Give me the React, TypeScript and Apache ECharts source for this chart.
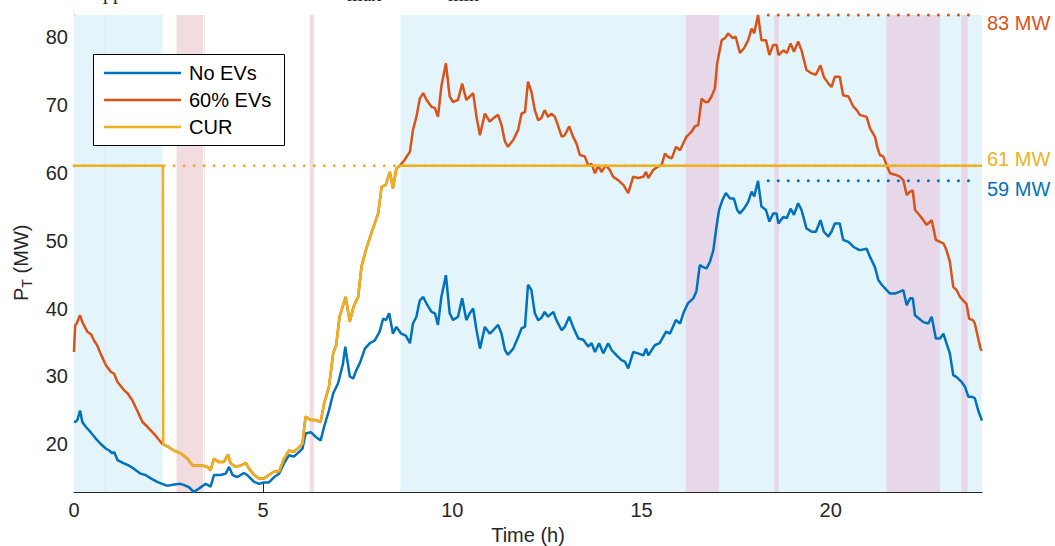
import React, { useEffect, useRef } from "react";
import * as echarts from "echarts";

// ---- data (time in h, power in MW) ----
const noEVs: [number, number][] = [
  [0, 23.4],[0.04, 23.3],[0.09, 23.6],[0.16, 25.0],[0.22, 23.3],[0.31, 22.6],[0.44, 21.8],[0.57, 20.9],[0.70, 20.1],[0.84, 19.4],[0.93, 19.1],[1.01, 18.7],[1.06, 18.9],[1.15, 17.7],[1.32, 17.2],[1.45, 16.9],[1.59, 16.4],[1.76, 15.7],[1.89, 15.5],[2.03, 15.0],[2.20, 14.5],[2.33, 14.2],[2.47, 13.9],[2.64, 14.1],[2.82, 14.2],[2.91, 14.0],[3.04, 13.7],[3.17, 13.0],[3.30, 13.5],[3.48, 14.2],[3.61, 13.8],[3.70, 15.5],[3.88, 15.5],[4.01, 15.7],[4.10, 16.7],[4.19, 15.5],[4.32, 15.2],[4.49, 15.8],[4.58, 15.5],[4.76, 14.5],[4.89, 14.2],[5.02, 14.4],[5.15, 14.4],[5.29, 15.2],[5.42, 15.7],[5.55, 17.2],[5.68, 18.4],[5.81, 18.2],[5.95, 18.9],[6.04, 19.4],[6.12, 21.6],[6.26, 21.8],[6.39, 21.1],[6.52, 20.6],[6.61, 22.6],[6.74, 25.0],[6.85, 27.5],[6.98, 29.0],[7.11, 31.9],[7.17, 34.4],[7.29, 30.0],[7.38, 29.7],[7.46, 30.9],[7.55, 31.9],[7.69, 34.1],[7.82, 34.9],[7.95, 35.3],[8.08, 36.6],[8.17, 38.5],[8.25, 38.3],[8.33, 39.3],[8.43, 36.3],[8.52, 37.3],[8.65, 36.3],[8.77, 36.0],[8.88, 34.9],[8.96, 37.8],[9.05, 38.8],[9.14, 41.2],[9.23, 41.7],[9.32, 40.7],[9.45, 39.5],[9.54, 39.3],[9.62, 37.6],[9.71, 41.7],[9.83, 44.9],[9.93, 39.3],[10.02, 38.3],[10.15, 38.8],[10.26, 41.5],[10.37, 38.3],[10.46, 39.3],[10.55, 40.0],[10.64, 36.8],[10.73, 34.1],[10.86, 37.3],[10.99, 36.3],[11.08, 36.8],[11.21, 37.6],[11.30, 36.3],[11.39, 33.9],[11.47, 33.2],[11.61, 34.1],[11.74, 35.8],[11.83, 37.1],[11.92, 37.3],[12.00, 43.5],[12.09, 42.7],[12.18, 39.3],[12.27, 38.3],[12.35, 38.6],[12.44, 39.5],[12.53, 38.8],[12.67, 39.5],[12.75, 38.3],[12.89, 36.8],[12.97, 37.3],[13.09, 38.8],[13.19, 37.3],[13.33, 35.6],[13.46, 35.4],[13.59, 34.4],[13.68, 34.9],[13.77, 33.6],[13.88, 34.9],[13.99, 33.4],[14.12, 34.9],[14.21, 33.9],[14.34, 33.1],[14.47, 32.4],[14.56, 32.2],[14.65, 31.2],[14.78, 33.6],[14.91, 33.4],[15.05, 33.1],[15.12, 34.1],[15.18, 33.1],[15.35, 34.6],[15.48, 34.9],[15.65, 36.6],[15.75, 36.3],[15.91, 38.3],[16.02, 37.8],[16.12, 39.5],[16.23, 40.8],[16.37, 41.5],[16.45, 42.5],[16.54, 46.4],[16.63, 46.1],[16.72, 45.9],[16.81, 46.9],[16.90, 48.6],[16.98, 52.0],[17.05, 54.5],[17.14, 56.0],[17.23, 57.0],[17.34, 56.2],[17.44, 56.2],[17.53, 54.5],[17.60, 54.0],[17.71, 54.7],[17.82, 55.7],[17.91, 57.2],[17.98, 56.5],[18.08, 58.8],[18.17, 55.0],[18.29, 54.5],[18.38, 52.8],[18.48, 54.0],[18.57, 54.0],[18.62, 52.5],[18.75, 53.5],[18.84, 53.3],[18.94, 54.7],[19.03, 53.8],[19.14, 55.5],[19.23, 54.5],[19.36, 51.8],[19.50, 51.3],[19.61, 51.3],[19.73, 53.0],[19.82, 51.3],[19.94, 50.6],[20.02, 51.3],[20.11, 52.5],[20.24, 52.5],[20.33, 50.1],[20.47, 49.8],[20.60, 49.1],[20.69, 48.8],[20.77, 48.6],[20.95, 48.8],[21.04, 47.6],[21.17, 46.1],[21.26, 44.2],[21.35, 43.5],[21.48, 42.7],[21.57, 42.2],[21.70, 42.2],[21.83, 42.5],[21.92, 42.7],[22.01, 40.5],[22.10, 41.5],[22.17, 41.5],[22.23, 39.0],[22.34, 38.5],[22.45, 38.0],[22.58, 37.8],[22.67, 38.8],[22.78, 35.6],[22.89, 35.6],[22.98, 36.3],[23.06, 34.9],[23.15, 33.4],[23.24, 30.2],[23.33, 29.9],[23.46, 29.2],[23.55, 28.5],[23.64, 27.0],[23.73, 27.0],[23.81, 26.8],[23.90, 25.0],[24.00, 23.5],
];

const evStart: [number, number][] = [
  [0, 33.6],[0.03, 37.5],[0.07, 37.8],[0.16, 39.0],[0.22, 38.0],[0.35, 36.6],[0.45, 36.2],[0.53, 35.3],[0.62, 34.5],[0.70, 33.4],[0.84, 31.7],[0.97, 30.7],[1.06, 30.4],[1.15, 29.2],[1.32, 28.0],[1.42, 27.5],[1.54, 26.5],[1.67, 25.0],[1.81, 23.3],[1.94, 22.6],[2.11, 21.6],[2.33, 20.1],
];

// segment where CUR and 60% EVs coincide
const sharedLow: [number, number][] = [
  [2.36, 20.0],[2.51, 19.6],[2.64, 19.1],[2.82, 18.7],[3.00, 17.9],[3.13, 16.9],[3.26, 16.9],[3.39, 16.9],[3.52, 16.7],[3.61, 16.2],[3.70, 17.9],[3.83, 17.4],[3.96, 17.4],[4.07, 18.5],[4.14, 17.2],[4.27, 16.7],[4.41, 16.9],[4.54, 17.3],[4.63, 16.4],[4.76, 15.5],[4.89, 15.0],[5.02, 15.0],[5.15, 15.5],[5.29, 16.0],[5.42, 16.0],[5.55, 17.9],[5.68, 19.1],[5.81, 18.9],[5.95, 19.6],[6.04, 20.1],[6.12, 24.1],[6.26, 23.6],[6.39, 23.6],[6.52, 23.3],[6.61, 26.0],[6.74, 28.5],[6.85, 33.4],[6.93, 34.6],[7.02, 38.8],[7.18, 41.7],[7.29, 38.1],[7.39, 40.3],[7.51, 41.7],[7.60, 46.2],[7.73, 48.9],[7.86, 51.1],[8.04, 54.0],[8.13, 57.9],[8.24, 58.2],[8.35, 60.1],[8.43, 57.7],[8.52, 60.6],[8.61, 61.0],
];

const evEnd: [number, number][] = [
  [8.74, 61.9],[8.88, 63.1],[8.96, 66.3],[9.05, 68.2],[9.14, 70.9],[9.23, 71.7],[9.32, 70.7],[9.45, 69.7],[9.54, 69.5],[9.62, 68.2],[9.71, 72.7],[9.83, 76.1],[9.93, 71.2],[10.02, 70.4],[10.15, 70.7],[10.26, 73.1],[10.37, 70.7],[10.46, 71.2],[10.55, 71.7],[10.64, 68.2],[10.73, 65.5],[10.86, 68.7],[10.99, 67.5],[11.08, 68.0],[11.21, 68.5],[11.30, 67.0],[11.39, 64.6],[11.47, 63.8],[11.61, 64.8],[11.74, 66.3],[11.83, 68.7],[11.92, 68.9],[12.00, 73.4],[12.09, 71.9],[12.18, 69.2],[12.27, 67.7],[12.35, 68.0],[12.44, 69.2],[12.53, 68.2],[12.62, 68.7],[12.71, 68.2],[12.80, 66.8],[12.89, 65.3],[12.97, 65.5],[13.09, 66.8],[13.19, 65.3],[13.28, 64.3],[13.37, 62.6],[13.50, 62.4],[13.59, 61.1],[13.68, 61.3],[13.77, 59.9],[13.86, 61.1],[13.94, 60.1],[14.06, 61.1],[14.16, 60.4],[14.25, 59.4],[14.38, 58.9],[14.52, 58.2],[14.65, 57.0],[14.78, 59.4],[14.91, 59.2],[15.05, 59.4],[15.12, 60.1],[15.18, 59.2],[15.31, 60.4],[15.44, 60.9],[15.53, 61.1],[15.62, 62.8],[15.71, 62.3],[15.80, 62.1],[15.91, 63.8],[16.02, 63.3],[16.12, 64.5],[16.19, 65.3],[16.32, 66.0],[16.41, 66.8],[16.50, 67.0],[16.59, 70.9],[16.68, 70.4],[16.76, 70.4],[16.85, 71.2],[16.94, 72.4],[17.00, 76.1],[17.12, 79.5],[17.21, 79.8],[17.29, 80.5],[17.41, 79.8],[17.49, 80.0],[17.60, 77.6],[17.71, 78.3],[17.82, 79.5],[17.91, 81.2],[17.98, 80.5],[18.08, 83.2],[18.17, 79.5],[18.29, 79.5],[18.38, 77.3],[18.48, 78.8],[18.57, 78.8],[18.62, 77.3],[18.75, 78.0],[18.84, 77.6],[18.94, 79.0],[19.03, 77.8],[19.14, 79.3],[19.23, 78.0],[19.36, 75.1],[19.50, 74.6],[19.61, 74.4],[19.73, 75.8],[19.82, 74.1],[19.94, 73.1],[20.02, 72.6],[20.11, 74.1],[20.24, 74.1],[20.33, 71.4],[20.47, 71.2],[20.60, 69.7],[20.69, 69.2],[20.77, 68.5],[20.95, 68.2],[21.04, 66.5],[21.17, 65.3],[21.23, 63.8],[21.30, 62.6],[21.39, 62.4],[21.48, 61.1],[21.57, 59.9],[21.70, 59.7],[21.83, 59.4],[21.92, 58.9],[22.01, 56.7],[22.10, 57.2],[22.17, 57.4],[22.23, 54.5],[22.34, 53.8],[22.45, 53.0],[22.54, 52.3],[22.67, 53.0],[22.78, 50.1],[22.89, 49.8],[22.98, 49.6],[23.06, 48.6],[23.15, 46.9],[23.24, 43.2],[23.33, 42.7],[23.42, 41.7],[23.50, 41.2],[23.59, 40.7],[23.66, 38.5],[23.76, 38.3],[23.81, 37.8],[23.90, 35.6],[23.96, 34.1],[24.00, 33.8],
];

const curLimit = 61;
const curStart: [number, number][] = [[0, 61], [2.35, 61]];
const curEnd: [number, number][] = [[24, 61]];

const peakEV = 83.2;
const peakNoEV = 58.8;
const peakLineFrom = 18.35;
const peakLineTo = 23.9;

const xTicks = [0, 5, 10, 15, 20];
const yTicks = [20, 30, 40, 50, 60, 70, 80];
const xRange = [0, 24];
const yRange = [13, 83.2];

const blueBands: [number, number][] = [[0, 2.34], [8.63, 24]];
const pinkBands: [number, number][] = [[2.71, 3.41], [6.23, 6.34]];
const purpleBands: [number, number][] = [[16.17, 17.05], [18.51, 18.63], [21.47, 22.89], [23.45, 23.62]];
const faintPurple: [number, number][] = [[0.815, 0.85]];
const faintPink: [number, number][] = [[3.43, 3.47]];

const seriesNames = ["No EVs", "60% EVs", "CUR"];
const peakLabels = ["83 MW", "61 MW", "59 MW"];

const C_BLUE = "#0072BD";
const C_ORANGE = "#D95319";
const C_YELLOW = "#EDB120";
const FONT = "'Liberation Sans', Arial, Helvetica, sans-serif";
const SERIF = "'Liberation Serif', 'DejaVu Serif', serif";
const AX = "#262626";

export default function App() {
  const ref = useRef<HTMLDivElement>(null);
  useEffect(() => {
    if (!ref.current) return;
    const chart = echarts.init(ref.current, undefined, { renderer: "svg" });
    const band = (list: [number, number][], color: string) =>
      list.map(([a, b]) => [{ xAxis: a, itemStyle: { color } }, { xAxis: b }]);
    const ev = [...evStart, ...sharedLow, ...evEnd];
    const cur = [...curStart, ...sharedLow, ...curEnd];
    const lineBase = { type: "line", showSymbol: false, symbol: "none", clip: false, silent: true, z: 3 } as any;
    const dotted = (color: string) => ({ color, width: 3, type: [0.01, 10], cap: "round" });

    const legendY = [73, 100, 127];
    const legendColors = [C_BLUE, C_ORANGE, C_YELLOW];

    chart.setOption({
      animation: false,
      grid: { left: 74, top: 15, width: 908, height: 477, containLabel: false },
      xAxis: {
        type: "value", min: xRange[0], max: xRange[1],
        axisLine: { show: true, lineStyle: { color: AX, width: 1 } },
        axisTick: { show: true, inside: true, length: 8, customValues: xTicks, lineStyle: { color: AX } },
        axisLabel: { customValues: xTicks, color: AX, fontSize: 20, fontFamily: FONT, margin: 8 },
        splitLine: { show: false },
      },
      yAxis: {
        type: "value", min: yRange[0], max: yRange[1],
        axisLine: { show: true, lineStyle: { color: AX, width: 1 } },
        axisTick: { show: true, inside: true, length: 8, customValues: yTicks, lineStyle: { color: AX } },
        axisLabel: { customValues: yTicks, color: AX, fontSize: 20, fontFamily: FONT, margin: 6 },
        splitLine: { show: false },
      },
      series: [
        {
          type: "line", name: "bands", data: [], silent: true, z: 1,
          markArea: {
            silent: true,
            itemStyle: { borderWidth: 0 },
            data: [
              ...band(blueBands, "#E3F4FB"),
              ...band(pinkBands, "#F2DCE0"),
              ...band(purpleBands, "#E6D8E9"),
              ...band(faintPurple, "#ECE2EE"),
              ...band(faintPink, "#F6E8EB"),
            ],
          },
        },
        { ...lineBase, name: seriesNames[0], data: noEVs, lineStyle: { color: C_BLUE, width: 2.5 }, itemStyle: { color: C_BLUE } },
        { ...lineBase, name: seriesNames[1], data: ev, lineStyle: { color: C_ORANGE, width: 2.5 }, itemStyle: { color: C_ORANGE } },
        { ...lineBase, name: seriesNames[2], data: cur, lineStyle: { color: C_YELLOW, width: 2.5 }, itemStyle: { color: C_YELLOW } },
        { ...lineBase, name: "peakEV", data: [[peakLineFrom, peakEV], [peakLineTo, peakEV]], lineStyle: dotted(C_ORANGE) },
        { ...lineBase, name: "limit", data: [[xRange[0], curLimit], [xRange[1], curLimit]], lineStyle: dotted(C_YELLOW) },
        { ...lineBase, name: "peakNoEV", data: [[peakLineFrom, peakNoEV], [peakLineTo, peakNoEV]], lineStyle: dotted(C_BLUE) },
      ],
      graphic: [
        // caption above the figure, cut off by the page edge as in the source
        { type: "text", x: 103, y: -8, style: { text: "pp", fontSize: 20, fontFamily: SERIF, fill: "#222", verticalAlign: "middle" } },
        { type: "text", x: 347, y: -6, style: { text: "max", fontSize: 20, fontFamily: SERIF, fill: "#222", verticalAlign: "middle" } },
        { type: "text", x: 448, y: -6, style: { text: "min", fontSize: 20, fontFamily: SERIF, fill: "#222", verticalAlign: "middle" } },
        // legend
        { type: "rect", shape: { x: 93.5, y: 54.5, width: 191, height: 91 }, style: { fill: "#fff", stroke: "#000", lineWidth: 1 }, z: 10 },
        ...seriesNames.map((n, i) => ({
          type: "group", z: 11,
          children: [
            { type: "line", shape: { x1: 104, y1: legendY[i], x2: 181, y2: legendY[i] }, style: { stroke: legendColors[i], lineWidth: 2.5 }, z: 11 },
            { type: "text", x: 189, y: legendY[i], style: { text: n, fontSize: 20, fontFamily: FONT, fill: "#000", verticalAlign: "middle", align: "left" }, z: 11 },
          ],
        })),
        // right labels
        { type: "text", x: 987, y: 23, style: { text: peakLabels[0], fontSize: 20, fontFamily: FONT, fill: C_ORANGE, verticalAlign: "middle" } },
        { type: "text", x: 987, y: 159, style: { text: peakLabels[1], fontSize: 20, fontFamily: FONT, fill: C_YELLOW, verticalAlign: "middle" } },
        { type: "text", x: 987, y: 189, style: { text: peakLabels[2], fontSize: 20, fontFamily: FONT, fill: C_BLUE, verticalAlign: "middle" } },
        // axis titles
        { type: "text", x: 528, y: 535, style: { text: "Time (h)", fontSize: 20, fontFamily: FONT, fill: AX, align: "center", verticalAlign: "middle" } },
        {
          type: "group", x: 21, y: 265, rotation: Math.PI / 2,
          children: [
            { type: "text", x: -36, y: 0, style: { text: "P", fontSize: 20, fontFamily: FONT, fill: AX, verticalAlign: "middle" } },
            { type: "text", x: -22.7, y: 6, style: { text: "T", fontSize: 14, fontFamily: FONT, fill: AX, verticalAlign: "middle" } },
            { type: "text", x: -14, y: 0, style: { text: " (MW)", fontSize: 20, fontFamily: FONT, fill: AX, verticalAlign: "middle" } },
          ],
        },
      ],
    });
    return () => chart.dispose();
  }, []);
  return <div ref={ref} style={{ position: "absolute", left: 0, top: 0, width: 1055, height: 546 }} />;
}
